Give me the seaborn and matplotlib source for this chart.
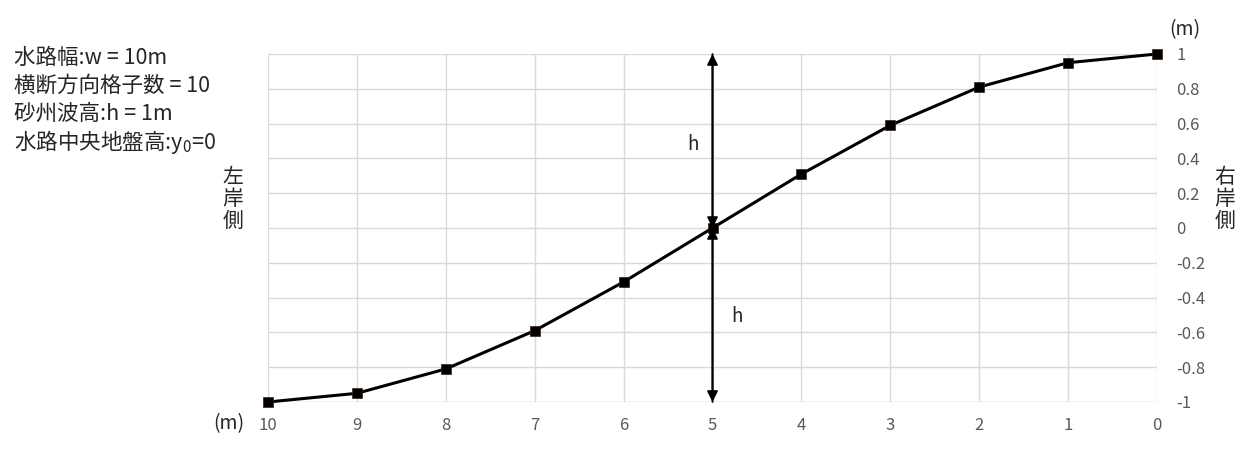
import numpy as np
import pandas as pd
import seaborn as sns
import matplotlib.pyplot as plt

# grid index across the channel (right bank = 0, left bank = 10)
grid_x = [0, 1, 2, 3, 4, 5, 6, 7, 8, 9, 10]
# bed elevation (m)
bed_z = [1.0, 0.95, 0.81, 0.59, 0.31, 0.0, -0.31, -0.59, -0.81, -0.95, -1.0]
y_ticks = [-1, -0.8, -0.6, -0.4, -0.2, 0, 0.2, 0.4, 0.6, 0.8, 1]
x_ticks = [10, 9, 8, 7, 6, 5, 4, 3, 2, 1, 0]

info_lines = ['水路幅:w = 10m', '横断方向格子数 = 10', '砂州波高:h = 1m',
              r'水路中央地盤高:$\mathregular{y_0}$=0']

sns.set_style('white')
plt.rcParams['font.family'] = ['Noto Sans CJK JP', 'DejaVu Sans']

df = pd.DataFrame({'x': grid_x, 'z': bed_z})

fig = plt.figure(figsize=(12.6, 4.51), dpi=100)
ax = fig.add_axes([268 / 1260, 1 - 402 / 451, (1157 - 268) / 1260, (402 - 54) / 451])

sns.lineplot(data=df, x='x', y='z', ax=ax, color='black', linewidth=2.2,
             marker='s', markersize=7, markerfacecolor='black',
             markeredgecolor='#3a2010', markeredgewidth=0.5, zorder=5,
             clip_on=False)

ax.set_xlim(10, 0)
ax.set_ylim(-1, 1)
ax.set_xticks(x_ticks)
ax.set_yticks(y_ticks)
ax.set_xticklabels([str(v) for v in x_ticks])
ax.set_yticklabels(['0' if v == 0 else f'{v:g}' for v in y_ticks])
ax.yaxis.tick_right()
ax.tick_params(axis='both', length=0, labelsize=12, colors='#595959')
ax.tick_params(axis='x', pad=11)
ax.tick_params(axis='y', pad=14)
ax.grid(True, color='#d9d9d9', linewidth=1)
for s in ax.spines.values():
    s.set_visible(False)
ax.axhline(-1, color='#d9d9d9', linewidth=1, zorder=0)
ax.set_xlabel('')
ax.set_ylabel('')

# double arrows for h
arrow = dict(arrowstyle='-|>', color='black', lw=1.3, mutation_scale=16,
             shrinkA=0, shrinkB=0)
ax.annotate('', xy=(5, 1), xytext=(5, 0), arrowprops=arrow, zorder=6)
ax.annotate('', xy=(5, 0), xytext=(5, 1), arrowprops=arrow, zorder=6)
ax.annotate('', xy=(5, -1), xytext=(5, 0), arrowprops=arrow, zorder=6)
ax.annotate('', xy=(5, 0), xytext=(5, -1), arrowprops=arrow, zorder=6)
ax.text(5.22, 0.48, 'h', fontsize=13.5, ha='center', va='center')
ax.text(4.72, -0.51, 'h', fontsize=13.5, ha='center', va='center')

for i, line in enumerate(info_lines):
    fig.text(14 / 1260, 1 - (58 + 28 * i) / 451, line, fontsize=15.5,
             ha='left', va='center')

fig.text(233 / 1260, 1 - 199 / 451, '左\n岸\n側', fontsize=15, ha='center',
         va='center', linespacing=1.0)
fig.text(1225 / 1260, 1 - 199 / 451, '右\n岸\n側', fontsize=15, ha='center',
         va='center', linespacing=1.0)
fig.text(1185 / 1260, 1 - 30 / 451, '(m)', fontsize=14, ha='center', va='center')
fig.text(229 / 1260, 1 - 424 / 451, '(m)', fontsize=14, ha='center', va='center')

fig.savefig('out.png', dpi=100)
